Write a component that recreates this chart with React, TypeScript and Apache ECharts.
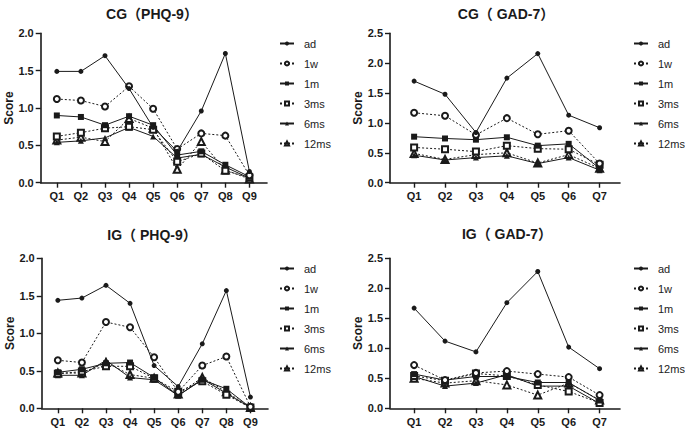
import React, { useEffect, useRef } from "react";
import * as echarts from "echarts";

const seriesNames = ["ad", "1w", "1m", "3ms", "6ms", "12ms"];
const phqCategories = ["Q1", "Q2", "Q3", "Q4", "Q5", "Q6", "Q7", "Q8", "Q9"];
const gadCategories = ["Q1", "Q2", "Q3", "Q4", "Q5", "Q6", "Q7"];
const phqTicks = [0, 0.5, 1.0, 1.5, 2.0];
const gadTicks = [0, 0.5, 1.0, 1.5, 2.0, 2.5];

// CG PHQ-9
const cgPhqAd = [1.49, 1.49, 1.7, 1.26, 0.74, 0.42, 0.96, 1.73, 0.15];
const cgPhq1w = [1.12, 1.1, 1.02, 1.29, 0.99, 0.45, 0.66, 0.63, 0.1];
const cgPhq1m = [0.9, 0.88, 0.77, 0.89, 0.77, 0.37, 0.42, 0.24, 0.08];
const cgPhq3ms = [0.62, 0.67, 0.73, 0.75, 0.71, 0.28, 0.39, 0.16, 0.07];
const cgPhq6ms = [0.54, 0.56, 0.6, 0.74, 0.62, 0.33, 0.38, 0.21, 0.06];
const cgPhq12ms = [0.57, 0.61, 0.55, 0.86, 0.73, 0.18, 0.55, 0.17, 0.05];

// CG GAD-7
const cgGadAd = [1.7, 1.48, 0.84, 1.75, 2.16, 1.13, 0.92];
const cgGad1w = [1.17, 1.12, 0.8, 1.08, 0.81, 0.87, 0.32];
const cgGad1m = [0.77, 0.74, 0.72, 0.76, 0.62, 0.65, 0.24];
const cgGad3ms = [0.59, 0.56, 0.52, 0.62, 0.57, 0.56, 0.3];
const cgGad6ms = [0.46, 0.38, 0.42, 0.45, 0.32, 0.42, 0.21];
const cgGad12ms = [0.49, 0.39, 0.47, 0.5, 0.33, 0.47, 0.24];

// IG PHQ-9
const igPhqAd = [1.44, 1.47, 1.64, 1.4, 0.57, 0.29, 0.86, 1.57, 0.15];
const igPhq1w = [0.64, 0.61, 1.15, 1.08, 0.68, 0.22, 0.57, 0.69, 0.02];
const igPhq1m = [0.48, 0.52, 0.6, 0.61, 0.41, 0.17, 0.38, 0.26, 0.01];
const igPhq3ms = [0.46, 0.49, 0.56, 0.56, 0.4, 0.22, 0.36, 0.18, 0.01];
const igPhq6ms = [0.44, 0.44, 0.64, 0.41, 0.38, 0.17, 0.39, 0.2, 0.01];
const igPhq12ms = [0.47, 0.47, 0.61, 0.45, 0.4, 0.19, 0.41, 0.22, 0.01];

// IG GAD-7
const igGadAd = [1.67, 1.12, 0.94, 1.76, 2.28, 1.02, 0.66];
const igGad1w = [0.72, 0.47, 0.59, 0.62, 0.57, 0.52, 0.22];
const igGad1m = [0.57, 0.47, 0.53, 0.53, 0.43, 0.43, 0.13];
const igGad3ms = [0.54, 0.46, 0.58, 0.54, 0.39, 0.28, 0.09];
const igGad6ms = [0.53, 0.37, 0.42, 0.56, 0.37, 0.37, 0.08];
const igGad12ms = [0.5, 0.42, 0.46, 0.39, 0.22, 0.42, 0.14];

const panelTitles = ["CG（PHQ-9）", "CG（ GAD-7）", "IG（ PHQ-9）", "IG（ GAD-7）"];

const FONT = "Liberation Sans, Arial, Noto Sans CJK SC, sans-serif";
const INK = "#1a1a1a";

const styles = [
  { symbol: "circle", size: 5, dashed: false },
  { symbol: "emptyCircle", size: 6, dashed: true },
  { symbol: "rect", size: 6, dashed: false },
  { symbol: "emptyRect", size: 6, dashed: true },
  { symbol: "triangle", size: 6, dashed: false },
  { symbol: "emptyTriangle", size: 7, dashed: true },
];

export default function App() {
  const ref = useRef<HTMLDivElement>(null);
  useEffect(() => {
    if (!ref.current) return;
    document.body.style.margin = "0";
    const chart = echarts.init(ref.current, null, { renderer: "svg", width: 685, height: 430 });

    const panels = [
      { cats: phqCategories, ticks: phqTicks, data: [cgPhqAd, cgPhq1w, cgPhq1m, cgPhq3ms, cgPhq6ms, cgPhq12ms], grid: { left: 40.7, top: 33.3, width: 226.3, height: 149.4 }, xmin: 0.33, xmax: 9.73, legendLeft: 274, legendTop: 32, titleX: 152, titleY: 14 },
      { cats: gadCategories, ticks: gadTicks, data: [cgGadAd, cgGad1w, cgGad1m, cgGad3ms, cgGad6ms, cgGad12ms], grid: { left: 390, top: 33.3, width: 230, height: 149.4 }, xmin: 0.22, xmax: 7.66, legendLeft: 628, legendTop: 32, titleX: 506, titleY: 14 },
      { cats: phqCategories, ticks: phqTicks, data: [igPhqAd, igPhq1w, igPhq1m, igPhq3ms, igPhq6ms, igPhq12ms], grid: { left: 41.7, top: 258.3, width: 226.3, height: 150 }, xmin: 0.33, xmax: 9.73, legendLeft: 274, legendTop: 257, titleX: 152, titleY: 235 },
      { cats: gadCategories, ticks: gadTicks, data: [igGadAd, igGad1w, igGad1m, igGad3ms, igGad6ms, igGad12ms], grid: { left: 390, top: 258.3, width: 230, height: 150 }, xmin: 0.22, xmax: 7.66, legendLeft: 628, legendTop: 257, titleX: 507, titleY: 234 },
    ];

    const grid: any[] = [];
    const xAxis: any[] = [];
    const yAxis: any[] = [];
    const series: any[] = [];
    const legend: any[] = [];
    const graphic: any[] = [];

    panels.forEach((p, pi) => {
      grid.push({ ...p.grid });
      const positions = p.cats.map((_, i) => i + 1);
      xAxis.push({
        type: "value",
        gridIndex: pi,
        min: p.xmin,
        max: p.xmax,
        splitLine: { show: false },
        axisLine: { show: true, lineStyle: { color: INK, width: 1.6 } },
        axisTick: { show: true, customValues: positions, length: 5, lineStyle: { color: INK, width: 1.4 } },
        axisLabel: {
          customValues: positions,
          formatter: (v: number) => p.cats[Math.round(v) - 1] ?? "",
          color: INK,
          fontFamily: FONT,
          fontWeight: "bold",
          fontSize: 11,
          margin: 8,
        },
      });
      yAxis.push({
        type: "value",
        gridIndex: pi,
        min: p.ticks[0],
        max: p.ticks[p.ticks.length - 1],
        interval: 0.5,
        name: "Score",
        nameLocation: "middle",
        nameGap: 26,
        nameTextStyle: { fontFamily: FONT, fontWeight: "bold", fontSize: 12, color: INK },
        splitLine: { show: false },
        axisLine: { show: true, lineStyle: { color: INK, width: 1.6 } },
        axisTick: { show: true, length: 5, lineStyle: { color: INK, width: 1.4 } },
        axisLabel: {
          formatter: (v: number) => v.toFixed(1),
          color: INK,
          fontFamily: FONT,
          fontWeight: "bold",
          fontSize: 11,
          margin: 7,
        },
      });
      p.data.forEach((vals, si) => {
        const st = styles[si];
        series.push({
          type: "line",
          name: seriesNames[si],
          xAxisIndex: pi,
          yAxisIndex: pi,
          data: vals.map((v, i) => [positions[i], v]),
          symbol: st.symbol,
          symbolSize: st.size,
          showSymbol: true,
          z: 10 - si,
          lineStyle: { color: INK, width: 1, type: st.dashed ? [2, 2] : "solid" },
          itemStyle: { color: INK, borderColor: INK, borderWidth: st.symbol.startsWith("empty") ? 1.3 : 0 },
          emphasis: { disabled: true },
        });
      });
      legend.push({
        orient: "vertical",
        left: p.legendLeft,
        top: p.legendTop,
        data: seriesNames,
        itemWidth: 14,
        itemHeight: 5,
        itemGap: 7,
        selectedMode: false,
        textStyle: { fontFamily: FONT, fontSize: 11, color: "#222", lineHeight: 13, padding: [0, 0, 0, 5] },
      });
      graphic.push({
        type: "text",
        x: p.titleX,
        y: p.titleY,
        style: {
          text: panelTitles[pi],
          fontFamily: FONT,
          fontWeight: "bold",
          fontSize: 14,
          fill: INK,
          textAlign: "center",
          textVerticalAlign: "middle",
        },
      });
    });

    chart.setOption({
      animation: false,
      backgroundColor: "#ffffff",
      grid,
      xAxis,
      yAxis,
      series,
      legend,
      graphic,
    });
    return () => chart.dispose();
  }, []);
  return <div ref={ref} style={{ position: "absolute", left: 0, top: 0, width: 685, height: 430 }} />;
}
